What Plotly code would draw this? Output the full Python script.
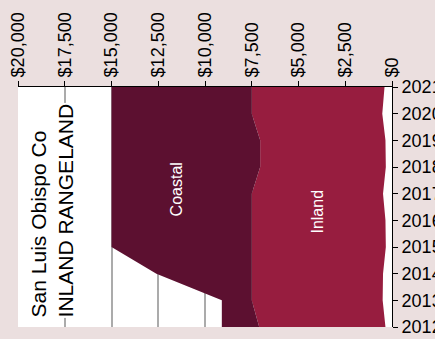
import plotly.graph_objects as go

# Annual values (USD per acre), stacked from $0 outward
years = [2012, 2013, 2014, 2015, 2016, 2017, 2018, 2019, 2020, 2021]
other = [350, 500, 480, 330, 350, 480, 330, 350, 520, 400]
inland = [6750, 7000, 7020, 7170, 7150, 7020, 6720, 6700, 6980, 7100]
coastal = [2000, 1600, 5100, 7500, 7500, 7500, 7950, 7950, 7500, 7500]

value_ticks = [0, 2500, 5000, 7500, 10000, 12500, 15000, 17500, 20000]
value_labels = ["$0", "$2,500", "$5,000", "$7,500", "$10,000",
                "$12,500", "$15,000", "$17,500", "$20,000"]

PAPER = "#EBDFDF"
COASTAL_COLOR = "#5C1030"
INLAND_COLOR = "#971D3F"
FONT = "Liberation Sans, Arial, sans-serif"

fig = go.Figure()
for name, vals, color in [("Other", other, "#FFFFFF"),
                          ("Inland", inland, INLAND_COLOR),
                          ("Coastal", coastal, COASTAL_COLOR)]:
    fig.add_trace(go.Scatter(
        x=vals, y=years, name=name, mode="none",
        stackgroup="one", orientation="h",
        fillcolor=color, hoverinfo="skip",
    ))

fig.update_layout(
    width=435, height=339,
    margin=dict(l=18, r=43, t=87, b=12),
    paper_bgcolor=PAPER, plot_bgcolor="#FFFFFF",
    showlegend=False,
    font=dict(family=FONT, size=18, color="#000000"),
    xaxis=dict(
        side="top", range=[20000, 0], automargin=False,
        tickvals=value_ticks, ticktext=value_labels,
        tickangle=-90, tickfont=dict(size=18),
        ticks="outside", ticklen=5, tickcolor="#000000",
        showline=True, linecolor="#000000", linewidth=1,
        showgrid=True, gridcolor="#ABABAB", gridwidth=1.5,
        zeroline=False,
    ),
    yaxis=dict(
        side="right", range=[2012, 2021], automargin=False,
        tickvals=years, ticktext=[str(y) for y in years],
        tickfont=dict(size=18),
        ticks="outside", ticklen=5, tickcolor="#000000",
        showline=True, linecolor="#000000", linewidth=1,
        showgrid=False, zeroline=False,
    ),
)

fig.add_annotation(
    x=18210, y=2016.39, xref="x", yref="y",
    text="San Luis Obispo Co<br>INLAND RANGELAND",
    textangle=-90, showarrow=False, align="left",
    xanchor="center", yanchor="middle",
    font=dict(family=FONT, size=21, color="#000000"),
    bgcolor="#FFFFFF", borderpad=0,
)
fig.add_annotation(
    x=11550, y=2017.16, xref="x", yref="y",
    text="Coastal", textangle=-90, showarrow=False,
    font=dict(family=FONT, size=16, color="#FFFFFF"),
)
fig.add_annotation(
    x=3984, y=2016.31, xref="x", yref="y",
    text="Inland", textangle=-90, showarrow=False,
    font=dict(family=FONT, size=16, color="#FFFFFF"),
)

fig.write_html("out.html")
